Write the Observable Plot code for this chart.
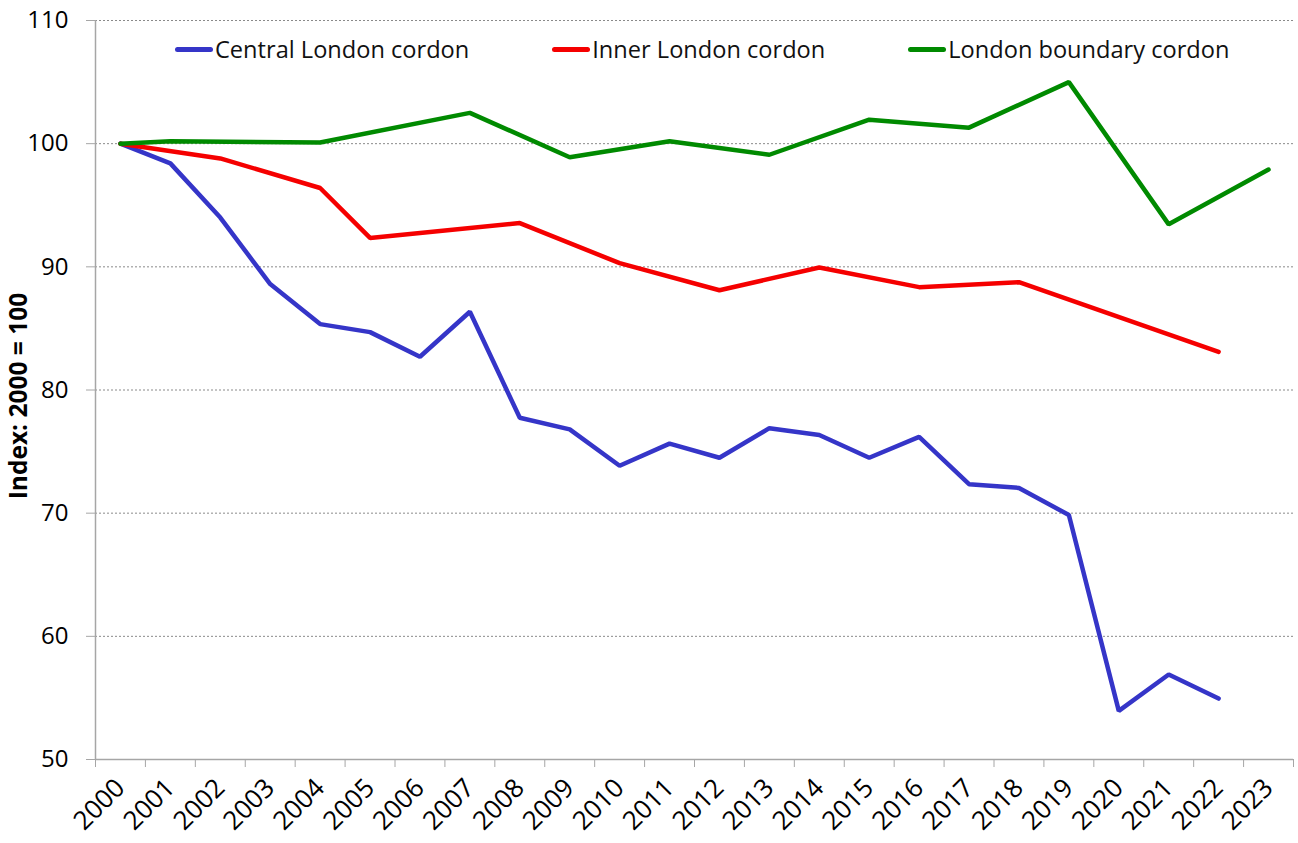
<!DOCTYPE html>
<html>
<head>
<meta charset="utf-8">
<script src="https://cdn.jsdelivr.net/npm/d3@7"></script>
<script src="https://cdn.jsdelivr.net/npm/@observablehq/plot@0.6"></script>
<style>
  html, body { margin: 0; padding: 0; background: #fff; }
  #wrap { position: relative; width: 1298px; height: 843px; font-family: "Open Sans", "Noto Sans", sans-serif; }
  #legend { position: absolute; left: 175px; top: 33px; display: flex; gap: 83px; font-size: 23.6px; color: #111; }
  .item { display: flex; align-items: center; }
  .sw { width: 38px; height: 5px; border-radius: 3px; margin-right: 2px; }
</style>
</head>
<body>
<div id="wrap"><div id="legend"></div></div>
<script>
const years = [2000,2001,2002,2003,2004,2005,2006,2007,2008,2009,2010,2011,2012,2013,2014,2015,2016,2017,2018,2019,2020,2021,2022,2023];
const seriesNames = ["Central London cordon", "Inner London cordon", "London boundary cordon"];
const seriesColors = ["#3535C8", "#F50000", "#008A00"];
const central  = [100, 98.4, 94.0, 88.6, 85.35, 84.7, 82.7, 86.35, 77.75, 76.8, 73.85, 75.65, 74.5, 76.9, 76.35, 74.5, 76.2, 72.35, 72.05, 69.85, 53.95, 56.9, 54.95, null];
const inner    = [100, null, 98.8, null, 96.4, 92.35, null, null, 93.55, null, 90.3, null, 88.1, null, 89.95, null, 88.35, null, 88.75, null, null, null, 83.1, null];
const boundary = [100, 100.2, null, null, 100.1, null, null, 102.5, null, 98.9, null, 100.2, null, 99.1, null, 101.95, null, 101.3, null, 105.0, null, 93.45, null, 97.9];
const yTicks = [50, 60, 70, 80, 90, 100, 110];
const gridTicks = [60, 70, 80, 90, 100, 110];
const yLabel = "Index: 2000 = 100";

const seriesValues = [central, inner, boundary];
const rows = [];
seriesNames.forEach((name, s) => {
  years.forEach((yr, i) => {
    const v = seriesValues[s][i];
    if (v != null) rows.push({series: name, year: yr, value: v});
  });
});
const boundaries = [...years.map(y => y - 0.5), years[years.length - 1] + 0.5];

const chart = Plot.plot({
  width: 1298,
  height: 843,
  marginLeft: 95,
  marginRight: 5,
  marginTop: 20,
  marginBottom: 84,
  style: {fontFamily: "'Open Sans', 'Noto Sans', sans-serif", fontSize: "24px", color: "#000", background: "#fff"},
  x: {type: "linear", domain: [boundaries[0], boundaries[boundaries.length - 1]]},
  y: {domain: [50, 110]},
  color: {domain: seriesNames, range: seriesColors},
  marks: [
    Plot.gridY(gridTicks, {stroke: "#8a8a8a", strokeOpacity: 1, strokeDasharray: "2,2", strokeWidth: 1}),
    Plot.ruleX([boundaries[0]], {stroke: "#a6a6a6", strokeWidth: 1.5}),
    Plot.ruleY([50], {stroke: "#a6a6a6", strokeWidth: 1.5}),
    Plot.axisY(yTicks, {tickSize: 9, tickPadding: 18, stroke: "#a6a6a6", fontSize: 24, label: null}),
    Plot.axisX(boundaries, {tickSize: 8, stroke: "#a6a6a6", tickFormat: () => "", label: null}),
    Plot.axisX(years, {tickSize: 0, tickRotate: -45, tickPadding: 24, tickFormat: d => String(d), fontSize: 26, label: null}),
    Plot.text([yLabel], {frameAnchor: "left", textAnchor: "middle", dx: -76, dy: 6, rotate: -90, fontWeight: "bold", fontSize: 24.5, fill: "#000"}),
    Plot.line(rows, {x: "year", y: "value", z: "series", stroke: "series", strokeWidth: 4.5, strokeLinejoin: "miter", strokeLinecap: "round"})
  ]
});
document.getElementById("wrap").prepend(chart);
chart.style.position = "absolute";
chart.style.left = "0";
chart.style.top = "0";

const legend = document.getElementById("legend");
seriesNames.forEach((name, i) => {
  const item = document.createElement("div");
  item.className = "item";
  const sw = document.createElement("div");
  sw.className = "sw";
  sw.style.background = seriesColors[i];
  const t = document.createElement("span");
  t.textContent = name;
  item.append(sw, t);
  legend.append(item);
});
</script>
</body>
</html>
